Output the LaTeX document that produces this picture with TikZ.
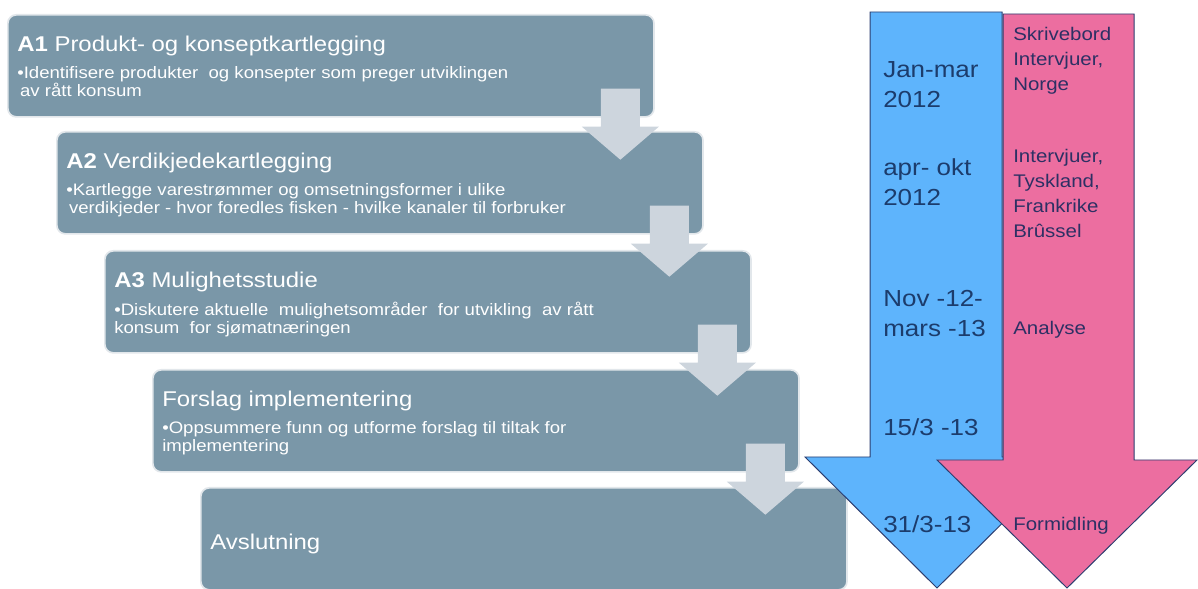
\documentclass[tikz,border=0pt]{standalone}
\usepackage{fontspec}
\setmainfont[FakeStretch=1.12]{Liberation Sans}
\usetikzlibrary{positioning}

\definecolor{stagefill}{RGB}{122,151,168}
\definecolor{stageedge}{RGB}{226,231,235}
\definecolor{stepgray}{RGB}{205,213,221}
\definecolor{timeblue}{RGB}{94,180,252}
\definecolor{taskpink}{RGB}{236,110,160}
\definecolor{arrowedge}{RGB}{44,62,112}
\definecolor{datetextcol}{RGB}{28,60,108}
\definecolor{tasktextcol}{RGB}{45,48,100}

\tikzset{
  stage/.style={draw=stageedge, line width=1.2pt, fill=stagefill, rounded corners=6pt,
    minimum width=16.15cm, minimum height=2.55cm, anchor=north west, inner sep=0pt},
  stagehead/.style={text=white, font=\fontsize{15.2}{18}\selectfont, anchor=north west, inner sep=0pt},
  stagebullet/.style={text=white, font=\fontsize{11.8}{12.8}\selectfont, align=left, anchor=north west, inner sep=0pt},
  steparrow/.style={fill=stepgray, draw=none},
  bigarrow/.style={draw=arrowedge, line width=0.7pt, line join=miter},
  datetext/.style={text=datetextcol, font=\fontsize{16.5}{21.3}\selectfont, align=left, anchor=north west, inner sep=0pt},
  tasktext/.style={text=tasktextcol, font=\fontsize{13}{17.8}\selectfont, align=left, anchor=north west, inner sep=0pt},
}

\begin{document}
\begin{tikzpicture}[x=0.025cm, y=-0.025cm]
		\useasboundingbox (0,0) rectangle (1198,589);
		% stages
		\node[stage] (b1) at (7,14) {};
		\node[stage] (b2) at (56,131) {};
		\node[stage] (b3) at (104,250) {};
		\node[stage] (b4) at (152,369) {};
		\node[stage] (b5) at (200,487) {};
		% arrows from stage to stage
		\foreach \i in {1,...,4}
			\fill[steparrow] ([shift={(-54,-29)}]b\i.south east) -- ++(39,0) -- ++(0,38) -- ++(19,0)
				-- ++(-38.5,33) -- ++(-38.5,-33) -- ++(19,0) -- cycle;
		% stage texts
		\node[stagehead] (t1) at (17,35.5) {\textbf{A1} Produkt- og konseptkartlegging};
		\node[stagebullet] (d1) at (17,66) {•Identifisere produkter\ \ og konsepter som preger utviklingen\\\hspace*{2pt}av rått konsum};
		\node[stagehead] (t2) at (66,152.5) {\textbf{A2} Verdikjedekartlegging};
		\node[stagebullet] (d2) at (66,183) {•Kartlegge varestrømmer og omsetningsformer i ulike\\\hspace*{2pt}verdikjeder - hvor foredles fisken - hvilke kanaler til forbruker};
		\node[stagehead] (t3) at (114,271.5) {\textbf{A3} Mulighetsstudie};
		\node[stagebullet] (d3) at (114,302) {•Diskutere aktuelle\ \ mulighetsområder\ \ for utvikling\ \ av rått\\konsum\ \ for sjømatnæringen};
		\node[stagehead] (t4) at (162,390.5) {Forslag implementering};
		\node[stagebullet] (d4) at (162,421) {•Oppsummere funn og utforme forslag til tiltak for\\implementering};
		\node[stagehead] (t5) at (210,533.5) {Avslutning};
		% time and task arrows
		\draw[bigarrow, fill=timeblue] (870,12) -- (1002,12) -- (1002,457) -- (1069,457) -- (937,588) -- (805,457) -- (870,457) -- cycle;
		\draw[bigarrow, fill=taskpink] (1003,14) -- (1134,14) -- (1134,460) -- (1197,460) -- (1067,588) -- (937,460) -- (1003,460) -- cycle;
		\node[datetext] (q1) at (883,61.7) {Jan-mar\\2012};
		\node[datetext] (q2) at (883,158.7) {apr-\ okt\\2012};
		\node[datetext] (q3) at (883,289.7) {Nov -12-\\mars\ -13};
		\node[datetext] (q4) at (883,418.7) {15/3 -13};
		\node[datetext] (q5) at (883,515.7) {31/3-13};
		\node[tasktext] (w1) at (1013,26.5) {Skrivebord\\Intervjuer,\\Norge};
		\node[tasktext] (w2) at (1013,148.5) {Intervjuer,\\Tyskland,\\Frankrike\\Brûssel};
		\node[tasktext] (w3) at (1013,320.5) {Analyse};
		\node[tasktext] (w4) at (1013,516.5) {Formidling};
\end{tikzpicture}
\end{document}
